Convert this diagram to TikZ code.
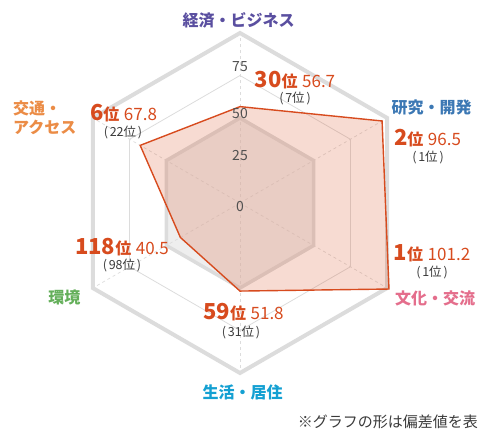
\documentclass[tikz,border=0pt]{standalone}
\usepackage{fontspec}
\setmainfont{Noto Sans CJK JP}
\definecolor{gridc}{HTML}{DCDCDC}
\definecolor{innerfill}{HTML}{EEEEEE}
\definecolor{datac}{HTML}{D74B1E}
\definecolor{tickc}{HTML}{505050}
\definecolor{subc}{HTML}{3A3A3A}
\definecolor{cPurple}{HTML}{5A4FA0}
\definecolor{cBlue}{HTML}{3C78B4}
\definecolor{cPink}{HTML}{E46E8C}
\definecolor{cCyan}{HTML}{14A0D2}
\definecolor{cGreen}{HTML}{64AF5A}
\definecolor{cOrange}{HTML}{EB8C46}
\newcommand{\fsz}[1]{\fontsize{#1pt}{#1pt}\selectfont}
\newcommand{\rankval}[2]{{\fsz{22}\bfseries #1}{\fsz{16}\bfseries 位}\hspace{4.5pt}{\fsz{17}#2}}
\newcommand{\subrank}[1]{(\hspace{1.8pt}#1位\hspace{1.8pt})}
\tikzset{
  catlabel/.style={font=\fsz{16}\bfseries, inner sep=0pt},
  vallabel/.style={text=datac, inner sep=0pt},
  sublabel/.style={text=subc, font=\fsz{12.5}, inner sep=0pt},
  ticklabel/.style={text=tickc, font=\fsz{14}, inner sep=0pt},
  ring/.style={draw=gridc},
  axisline/.style={draw=gridc, dashed, line width=0.7pt},
}
\begin{document}
\begin{tikzpicture}[x=1pt,y=1pt]
\useasboundingbox (-240,-229) rectangle (238,203);
% rings
\draw[ring, line width=4pt, line join=miter]
  (90:170) -- (30:170) -- (-30:170) -- (-90:170) -- (210:170) -- (150:170) -- cycle;
\draw[ring, line width=0.8pt]
  (90:127.5) -- (30:127.5) -- (-30:127.5) -- (-90:127.5) -- (210:127.5) -- (150:127.5) -- cycle;
\draw[ring, fill=innerfill, line width=3.5pt]
  (90:85) -- (30:85) -- (-30:85) -- (-90:85) -- (210:85) -- (150:85) -- cycle;
% axes
\coordinate (o) at (0,0);
\foreach \a/\n in {90/ax1,30/ax2,-30/ax3,-90/ax4,210/ax5,150/ax6}{
  \coordinate (\n) at (\a:168);
  \draw[axisline] (o) -- (\n);
}
% data
\coordinate (d1) at (90:{56.7*1.7});
\coordinate (d2) at (30:{96.5*1.7});
\coordinate (d3) at (-30:{101.2*1.7});
\coordinate (d4) at (-90:{51.8*1.7});
\coordinate (d5) at (210:{40.5*1.7});
\coordinate (d6) at (150:{67.8*1.7});
\draw[draw=datac, fill=datac, fill opacity=0.2, line width=1.4pt, line join=miter]
  (d1) -- (d2) -- (d3) -- (d4) -- (d5) -- (d6) -- cycle;
% tick labels
\node[ticklabel] (t75) at (0,136) {75};
\node[ticklabel] (t50) at (0,89) {50};
\node[ticklabel] (t25) at (0,47) {25};
\node[ticklabel] (t0) at (0,-4) {0};
% category labels
\node[catlabel, text=cPurple] (c1) at (-1.5,183) {経済・ビジネス};
\node[catlabel, text=cBlue] (c2) at (191.5,96) {研究・開発};
\node[catlabel, text=cPink] (c3) at (195,-95) {文化・交流};
\node[catlabel, text=cCyan] (c4) at (2.5,-189) {生活・居住};
\node[catlabel, text=cGreen] (c5) at (-175.5,-94) {環境};
\node[catlabel, text=cOrange, anchor=west] (c6a) at (-227,95) {交通・};
\node[catlabel, text=cOrange, anchor=west] (c6b) at (-227,76) {アクセス};
% value labels
\node[vallabel] (v1) at (55,123) {\rankval{30}{56.7}};
\node[sublabel] (s1) at (55,105) {\subrank{7}};
\node[vallabel] (v2) at (187.5,65) {\rankval{2}{96.5}};
\node[sublabel] (s2) at (188,46) {\subrank{1}};
\node[vallabel] (v3) at (192,-50) {\rankval{1}{101.2}};
\node[sublabel] (s3) at (192,-69) {\subrank{1}};
\node[vallabel] (v4) at (3.5,-109) {\rankval{59}{51.8}};
\node[sublabel] (s4) at (1,-129) {\subrank{31}};
\node[vallabel] (v5) at (-118,-44) {\rankval{118}{40.5}};
\node[sublabel] (s5) at (-118,-62) {\subrank{98}};
\node[vallabel] (v6) at (-116.5,90) {\rankval{6}{67.8}};
\node[sublabel] (s6) at (-117,71) {\subrank{22}};
% footnote
\node[text=subc, font=\fsz{15}, inner sep=0pt, anchor=east] (fn) at (238,-219) {※グラフの形は偏差値を表};
\end{tikzpicture}
\end{document}
